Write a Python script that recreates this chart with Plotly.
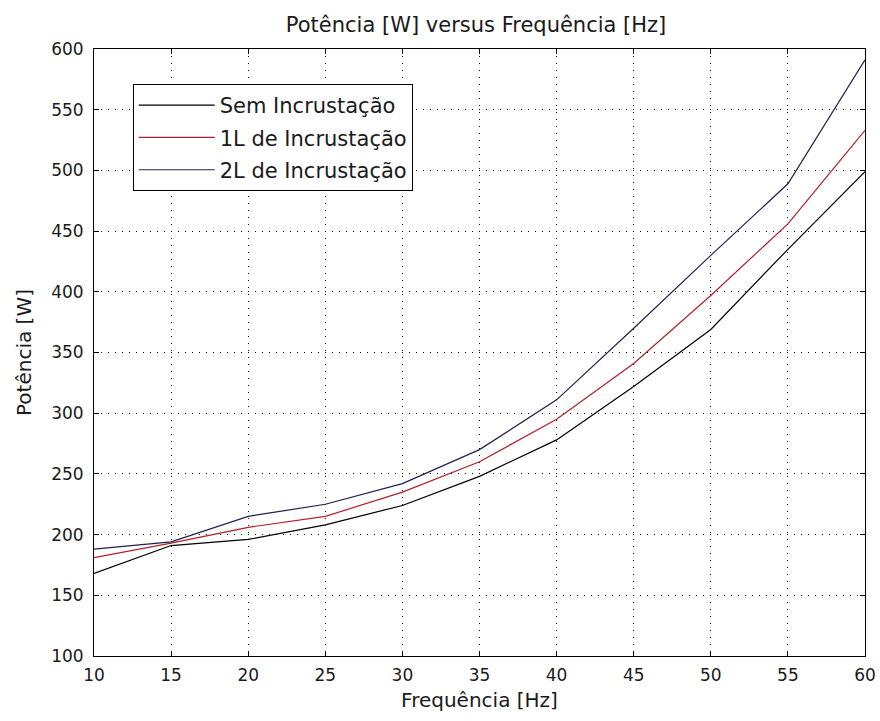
import plotly.graph_objects as go

freq = [10, 15, 20, 25, 30, 35, 40, 45, 50, 55, 60]
sem_incrustacao = [168, 191, 196, 208, 224, 248, 278, 322, 369, 435, 499]
um_litro = [181, 193, 206, 215, 235, 260, 295, 341, 397, 456, 533]
dois_litros = [188, 194, 215, 225, 242, 270, 311, 370, 430, 489, 591]

series_names = ["Sem Incrustação", "1L de Incrustação", "2L de Incrustação"]
series_colors = ["#000000", "#b0202c", "#202050"]
x_ticks = [10, 15, 20, 25, 30, 35, 40, 45, 50, 55, 60]
y_ticks = [100, 150, 200, 250, 300, 350, 400, 450, 500, 550, 600]

FONT = "DejaVu Sans, sans-serif"
TXT = "#1a1a1a"

fig = go.Figure()
for i, (name, ys, col) in enumerate(zip(series_names, [sem_incrustacao, um_litro, dois_litros], series_colors)):
    fig.add_trace(go.Scatter(
        x=freq, y=ys, mode="lines", name=name, legendgroup=f"g{i}",
        line=dict(color=col, width=1.2),
    ))

axis_common = dict(
    showline=True, linecolor="black", linewidth=1, mirror="ticks",
    ticks="inside", ticklen=5, tickcolor="black", tickwidth=1,
    showgrid=True, gridcolor="black", gridwidth=1, griddash="1px,6px",
    zeroline=False, automargin=False,
    tickfont=dict(family=FONT, size=17, color=TXT),
)

fig.update_xaxes(range=[10, 60], tickvals=x_ticks,
                 title=dict(text="Frequência [Hz]", font=dict(family=FONT, size=20, color=TXT), standoff=8),
                 ticklabelstandoff=4,
                 **axis_common)
fig.update_yaxes(range=[100, 600], tickvals=y_ticks,
                 title=dict(text="Potência [W]", font=dict(family=FONT, size=20, color=TXT), standoff=14),
                 ticklabelstandoff=6,
                 **axis_common)

fig.update_layout(
    width=880, height=721,
    margin=dict(l=94, r=15, t=49, b=65),
    paper_bgcolor="white", plot_bgcolor="white",
    title=dict(text="Potência [W] versus Frequência [Hz]", x=0.541, xanchor="center",
               y=1 - 25 / 721, yanchor="middle",
               font=dict(family=FONT, size=21, color=TXT)),
    showlegend=True,
    legend=dict(
        x=0.0502, y=0.9423, xanchor="left", yanchor="top",
        bgcolor="white", bordercolor="black", borderwidth=1,
        font=dict(family=FONT, size=21, color=TXT),
        tracegroupgap=2, itemwidth=76,
    ),
)

fig.write_html("out.html")
